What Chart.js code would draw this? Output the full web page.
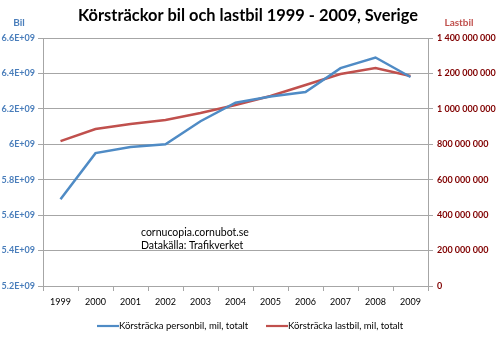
<!DOCTYPE html>
<html>
<head>
<meta charset="utf-8">
<script src="https://cdn.jsdelivr.net/npm/chart.js@4.4.0/dist/chart.umd.min.js"></script>
<style>
  html, body { margin: 0; padding: 0; background: #fff; }
  #wrap { width: 497px; height: 337px; }
</style>
</head>
<body>
<div id="wrap"><canvas id="c" width="497" height="337"></canvas></div>
<script>
// Data
const years = ['1999', '2000', '2001', '2002', '2003', '2004', '2005', '2006', '2007', '2008', '2009'];
const personbil = [5.69e9, 5.95e9, 5.985e9, 6.0e9, 6.13e9, 6.235e9, 6.27e9, 6.295e9, 6.43e9, 6.49e9, 6.38e9];
const lastbil = [818e6, 886e6, 914e6, 937e6, 977e6, 1022e6, 1073e6, 1135e6, 1197e6, 1231e6, 1186e6];

const blue = '#4f8bc5';
const red = '#c0504d';
const font = 'Lato';

// title, axis titles, source note and legend
const extras = {
    id: 'extras',
    afterDraw(chart) {
        let ctx = chart.ctx;
        ctx.save();
        ctx.textBaseline = 'middle';
        ctx.textAlign = 'center';
        ctx.fillStyle = '#000';
        ctx.font = 'bold 16.4px ' + font;
        ctx.fillText('Körsträckor bil och lastbil 1999 - 2009, Sverige', 248, 16);
        ctx.font = 'bold 10px ' + font;
        ctx.fillStyle = '#4a7ebb';
        ctx.fillText('Bil', 19, 23);
        ctx.fillStyle = red;
        ctx.fillText('Lastbil', 459, 23);
        ctx.textAlign = 'left';
        ctx.fillStyle = '#000';
        ctx.font = '10.5px ' + font;
        ctx.fillText('cornucopia.cornubot.se', 141, 233);
        ctx.fillText('Datakälla: Trafikverket', 141, 246);

        // legend
        let starts = [97, 266];
        ctx.font = '9.5px ' + font;
        chart.data.datasets.forEach((ds, i) => {
            let x = starts[i];
            ctx.strokeStyle = ds.borderColor;
            ctx.lineWidth = 2.2;
            ctx.beginPath();
            ctx.moveTo(x, 326);
            ctx.lineTo(x + 22, 326);
            ctx.stroke();
            ctx.fillStyle = '#000';
            ctx.fillText(ds.label, x + 22, 326);
        });
        ctx.restore();
    }
};

function bilTick(v) {
    let n = Math.round(v / 1e8) / 10;
    return n + 'E+09';
}
function lastTick(v) {
    return String(Math.round(v)).replace(/\B(?=(\d{3})+(?!\d))/g, ' ');
}

new Chart(document.getElementById('c'), {
    type: 'line',
    data: {
        labels: years,
        datasets: [{
            label: 'Körsträcka personbil, mil, totalt',
            data: personbil,
            borderColor: blue,
            backgroundColor: blue,
            borderWidth: 2.5,
            pointRadius: 0,
            tension: 0,
            yAxisID: 'y'
        }, {
            label: 'Körsträcka lastbil, mil, totalt',
            data: lastbil,
            borderColor: red,
            backgroundColor: red,
            borderWidth: 2.5,
            pointRadius: 0,
            tension: 0,
            yAxisID: 'y2'
        }]
    },
    options: {
        responsive: false,
        animation: false,
        layout: { padding: { left: 0, right: 0, top: 38, bottom: 29 } },
        plugins: {
            legend: { display: false },
            tooltip: { enabled: false }
        },
        scales: {
            x: {
                offset: true,
                afterFit(s) { s.height = 22; },
                grid: { offset: true, drawOnChartArea: false, tickLength: 5, color: '#a6a6a6' },
                border: { color: '#a6a6a6' },
                ticks: { font: { family: font, size: 9 }, color: '#000', padding: 6, maxRotation: 0 }
            },
            y: {
                position: 'left',
                min: 5.2e9,
                max: 6.6e9,
                afterFit(s) { s.width = 43; },
                grid: { color: '#a6a6a6', tickLength: 5 },
                border: { color: '#a6a6a6' },
                ticks: { stepSize: 0.2e9, callback: bilTick, font: { family: font, size: 9, weight: 'bold' }, color: '#4a7ebb', padding: 3 }
            },
            y2: {
                position: 'right',
                min: 0,
                max: 1.4e9,
                afterFit(s) { s.width = 69; },
                grid: { drawOnChartArea: false, tickLength: 5, color: '#a6a6a6' },
                border: { color: '#a6a6a6' },
                ticks: { stepSize: 2e8, callback: lastTick, font: { family: font, size: 9, weight: 'bold' }, color: '#800000', padding: 4 }
            }
        }
    },
    plugins: [extras]
});
</script>
</body>
</html>
